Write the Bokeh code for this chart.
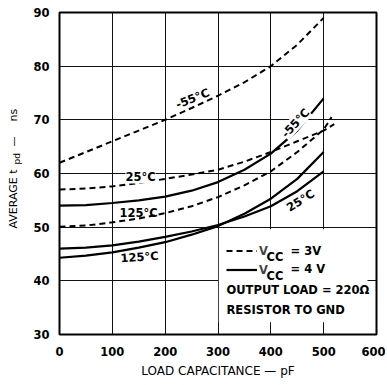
import math
from bokeh.plotting import figure
from bokeh.layouts import row
from bokeh.models import Label, BoxAnnotation, Legend, LegendItem, FixedTicker, Range1d
from bokeh.embed import file_html
from bokeh.resources import INLINE

# ---------------- data ----------------
cap = [0, 50, 100, 150, 200, 250, 300, 350, 400, 450, 500]
cap_25_3v = [0, 50, 100, 150, 200, 250, 300, 350, 400, 450, 500, 520]
cap_125_3v = [0, 50, 100, 150, 200, 250, 300, 350, 400, 450, 500, 515]

# VCC = 3 V (dashed)
v3_m55 = [62.0, 64.0, 66.0, 68.0, 70.0, 72.2, 74.5, 77.0, 80.0, 84.0, 89.0]
v3_25 = [57.0, 57.2, 57.6, 58.2, 59.0, 59.8, 60.7, 62.2, 64.0, 66.0, 68.0, 69.2]
v3_125 = [50.1, 50.3, 50.9, 51.6, 52.6, 53.9, 55.6, 57.8, 60.4, 64.0, 68.2, 70.5]
# VCC = 4 V (solid)
v4_m55 = [54.0, 54.1, 54.5, 55.0, 55.7, 56.8, 58.4, 60.7, 63.7, 68.0, 74.0]
v4_25 = [46.0, 46.2, 46.6, 47.3, 48.2, 49.2, 50.4, 52.0, 53.9, 56.7, 60.4]
v4_125 = [44.3, 44.7, 45.3, 46.2, 47.2, 48.6, 50.2, 52.5, 55.3, 59.0, 64.0]

x_ticks = [0, 100, 200, 300, 400, 500, 600]
y_ticks = [30, 40, 50, 60, 70, 80, 90]

# ---------------- layout helpers (page px -> data) ----------------
LEFT_W = 24
TOTAL_H = 384
FX0, FX1, FY0, FY1 = 59.0, 376.0, 12.0, 334.0
def px2x(px):
    return (px - FX0) / (FX1 - FX0) * 600.0
def px2y(py):
    return 30.0 + (FY1 - py) / (FY1 - FY0) * 60.0

p = figure(width=385 - LEFT_W, height=TOTAL_H, x_range=Range1d(0, 600), y_range=Range1d(30, 90),
           output_backend="svg", toolbar_location=None,
           min_border_left=int(FX0) - LEFT_W, min_border_right=385 - int(FX1),
           min_border_top=int(FY0), min_border_bottom=TOTAL_H - int(FY1))
p.background_fill_color = "white"
p.border_fill_color = "white"
p.outline_line_color = "black"
p.outline_line_width = 2

p.xgrid.ticker = FixedTicker(ticks=x_ticks)
p.ygrid.ticker = FixedTicker(ticks=y_ticks)
p.xgrid.grid_line_color = "#111111"
p.ygrid.grid_line_color = "#111111"
p.xgrid.grid_line_width = 1
p.ygrid.grid_line_width = 1

for ax in (p.xaxis, p.yaxis):
    ax.axis_line_color = None
    ax.major_tick_line_color = None
    ax.minor_tick_line_color = None
    ax.major_label_text_font = "DejaVu Sans"
    ax.major_label_text_font_style = "bold"
    ax.major_label_text_font_size = "11.5px"
    ax.major_label_text_color = "black"
p.xaxis.ticker = FixedTicker(ticks=x_ticks)
p.yaxis.ticker = FixedTicker(ticks=y_ticks)
p.xaxis.major_label_standoff = 6
p.yaxis.major_label_standoff = 4
p.xaxis.axis_label = "LOAD CAPACITANCE — pF"
p.xaxis.axis_label_text_font = "DejaVu Sans"
p.xaxis.axis_label_text_font_style = "normal"
p.xaxis.axis_label_text_font_size = "12px"
p.xaxis.axis_label_text_color = "black"
p.xaxis.axis_label_standoff = 5

dash = "6 4"
r_d = p.line(cap, v3_m55, line_color="black", line_width=2, line_dash=dash)
p.line(cap_25_3v, v3_25, line_color="black", line_width=2, line_dash=dash)
p.line(cap_125_3v, v3_125, line_color="black", line_width=2, line_dash=dash)
r_s = p.line(cap, v4_m55, line_color="black", line_width=2.2)
p.line(cap, v4_25, line_color="black", line_width=2.2)
p.line(cap, v4_125, line_color="black", line_width=2.2)

# white box behind the legend text
box = BoxAnnotation(left=301.5, right=583, bottom=32.3, top=49.6,
                    fill_color="white", fill_alpha=1.0, line_alpha=0)
p.add_layout(box)

lab_font = "DejaVu Sans"
def add_label(text, px, py, angle=0.0, size="11.5px", bold=True, align="center",
              bg=False, font=lab_font):
    kw = {}
    if bg:
        kw = dict(background_fill_color="white", background_fill_alpha=1.0)
    lab = Label(x=px2x(px), y=px2y(py), text=text, angle=angle,
                text_font=font, text_font_size=size,
                text_font_style="bold" if bold else "normal",
                text_align=align, text_baseline="middle", text_color="black", **kw)
    p.add_layout(lab)

# curve labels
add_label("-55°C", 192, 98, angle=0.38)
add_label("25°C", 140, 176, bg=True)
add_label("125°C", 138, 212.5)
add_label("125°C", 139, 256.5, angle=0.07)
add_label("-55°C", 295, 122.5, angle=0.82, bg=True)
add_label("25°C", 300, 200, angle=0.56)

# legend (line samples)
legend = Legend(items=[LegendItem(label="V", renderers=[r_d]),
                       LegendItem(label="V", renderers=[r_s])],
                location=(167, 55), orientation="vertical",
                padding=0, margin=0, spacing=0,
                glyph_width=31, glyph_height=19, label_height=19, label_standoff=2,
                label_text_font="DejaVu Sans", label_text_font_style="bold",
                label_text_font_size="11.5px",
                background_fill_alpha=0, border_line_alpha=0)
p.add_layout(legend)

add_label("CC", 266, 256, align="left")
add_label("= 3V", 290, 250, align="left")
add_label("CC", 266, 275, align="left")
add_label("= 4 V", 290, 268.5, align="left")
add_label("OUTPUT LOAD = 220Ω", 226, 289.5, align="left")
add_label("RESISTOR TO GND", 226, 309.5, align="left")

# y-axis title in a narrow side figure; its frame is aligned with the main frame,
# so its y range is expressed in page pixels of that frame (flipped).
side = figure(width=LEFT_W, height=TOTAL_H, title=None,
              x_range=Range1d(0, LEFT_W), y_range=Range1d(FY0, FY1),
              output_backend="svg", toolbar_location=None,
              x_axis_location=None, y_axis_location=None,
              min_border_left=0, min_border_right=0,
              min_border_top=int(FY0), min_border_bottom=TOTAL_H - int(FY1))
side.outline_line_color = None
side.xgrid.visible = False
side.ygrid.visible = False
side.background_fill_color = "white"
side.border_fill_color = "white"
y_title_parts = [("AVERAGE t", 13, 228, "11px"), ("pd", 16.5, 164, "9px"),
                 ("—", 13, 146, "10px"), ("ns", 13, 121, "11px")]
for txt, sx, sy, sz in y_title_parts:
    side.add_layout(Label(x=sx, y=FY0 + FY1 - sy, text=txt, angle=math.pi / 2, text_font="DejaVu Sans",
                          text_font_size=sz, text_align="left", text_baseline="middle",
                          text_color="black"))

layout = row(side, p, spacing=0)

with open("out.html", "w") as f:
    f.write(file_html(layout, INLINE))
